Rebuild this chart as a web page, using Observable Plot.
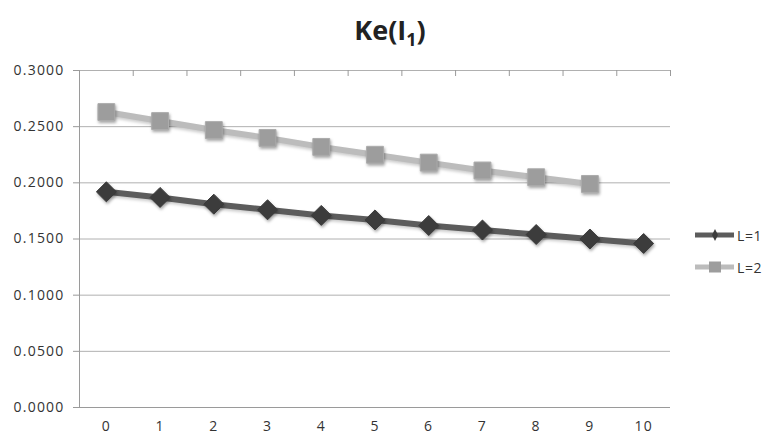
<!DOCTYPE html>
<html><head><meta charset="utf-8">
<script src="https://cdn.jsdelivr.net/npm/d3@7"></script>
<script src="https://cdn.jsdelivr.net/npm/@observablehq/plot@0.6"></script>
<style>
body{margin:0;background:#fff;}
#wrap{position:relative;width:766px;height:437px;font-family:"Open Sans",sans-serif;}
#title{position:absolute;left:0;width:780px;top:11px;text-align:center;font-size:27px;font-weight:bold;color:#222;}
#title sub{font-size:18px;vertical-align:-6px;line-height:0;}
#chart{position:absolute;left:0;top:0;}
#chart text{font-size:14px;letter-spacing:1.2px;fill:#333;}
#chart g[aria-label="dot"]{filter:drop-shadow(1px 2px 1.5px rgba(0,0,0,0.35));}
#chart g[aria-label="line"]{filter:drop-shadow(0px 2px 1.5px rgba(0,0,0,0.2));}
.leg{position:absolute;left:695px;font-size:14px;letter-spacing:0.6px;color:#333;display:flex;align-items:center;}
</style>
</head><body>
<div id="wrap"><div id="chart"></div><div id="title">Ke(I<sub>1</sub>)</div><div id="legend"></div></div>
<script>
const categories = [0,1,2,3,4,5,6,7,8,9,10];
const seriesNames = ["L=1","L=2"];
const valuesL1 = [0.192,0.187,0.181,0.176,0.171,0.167,0.162,0.158,0.154,0.150,0.146];
const valuesL2 = [0.263,0.255,0.247,0.240,0.232,0.225,0.218,0.211,0.205,0.199];
const yTicks = [0,0.05,0.10,0.15,0.20,0.25,0.30];

const lineColors = {"L=1":"#5c5c5c","L=2":"#bcbcbc"};
const markColors = {"L=1":"#3c3c3c","L=2":"#9d9d9d"};

const d1 = valuesL1.map((v,i)=>({x:categories[i],y:v,s:"L=1"}));
const d2 = valuesL2.map((v,i)=>({x:categories[i],y:v,s:"L=2"}));
const bounds = categories.map(c=>c-0.5).concat([categories[categories.length-1]+0.5]);

const chart = Plot.plot({
  width:766, height:437,
  marginLeft:79, marginRight:96, marginTop:70, marginBottom:30,
  style:{fontFamily:"Open Sans, sans-serif", fontSize:"14px", color:"#333", overflow:"visible"},
  x:{domain:[-0.5,10.5]},
  y:{domain:[0,0.3]},
  marks:[
    Plot.gridY(yTicks,{stroke:"#b0b0b0",strokeOpacity:1,strokeWidth:1}),
    Plot.ruleX([-0.5],{stroke:"#9a9a9a"}),
    Plot.ruleY([0],{stroke:"#9a9a9a"}),
    Plot.axisY(yTicks,{tickFormat:d=>d.toFixed(4),tickSize:6,tickPadding:9,stroke:"#9a9a9a",label:null}),
    Plot.tickX(bounds,{x:d=>d,y1:0,y2:0,stroke:"#9a9a9a",render:(idx,scales,values,dims,ctx,next)=>{const g=next(idx,scales,values,dims,ctx);const y0=+d3.select(g).select("line").attr("y1");d3.select(g).selectAll("line").attr("y2",y0+6);return g;}}),
    Plot.axisX(categories,{tickSize:0,tickPadding:14,label:null}),
    Plot.line(d2,{x:"x",y:"y",stroke:lineColors["L=2"],strokeWidth:6}),
    Plot.dot(d2,{x:"x",y:"y",symbol:"square",r:9.5,fill:markColors["L=2"],stroke:"#acacac",strokeWidth:1}),
    Plot.line(d1,{x:"x",y:"y",stroke:lineColors["L=1"],strokeWidth:6}),
    Plot.dot(d1,{x:"x",y:"y",symbol:"diamond2",r:9,fill:markColors["L=1"],stroke:"#3a3a3a",strokeWidth:1})
  ]
});
document.getElementById("chart").appendChild(chart);

const legend = document.getElementById("legend");
seriesNames.forEach((s,i)=>{
  const div=document.createElement("div");
  div.className="leg";
  div.style.top=(225+i*32)+"px";
  const marker = s==="L=1"
    ? `<path d="M20,4 L23,10 L20,16 L17,10Z" fill="${markColors[s]}"/>`
    : `<rect x="14" y="4.5" width="12" height="11" fill="${markColors[s]}"/>`;
  div.innerHTML=`<svg width="39" height="20"><line x1="0" x2="39" y1="10" y2="10" stroke="${lineColors[s]}" stroke-width="5"/>${marker}</svg><span style="margin-left:3px">${s}</span>`;
  legend.appendChild(div);
});
</script>
</body></html>
